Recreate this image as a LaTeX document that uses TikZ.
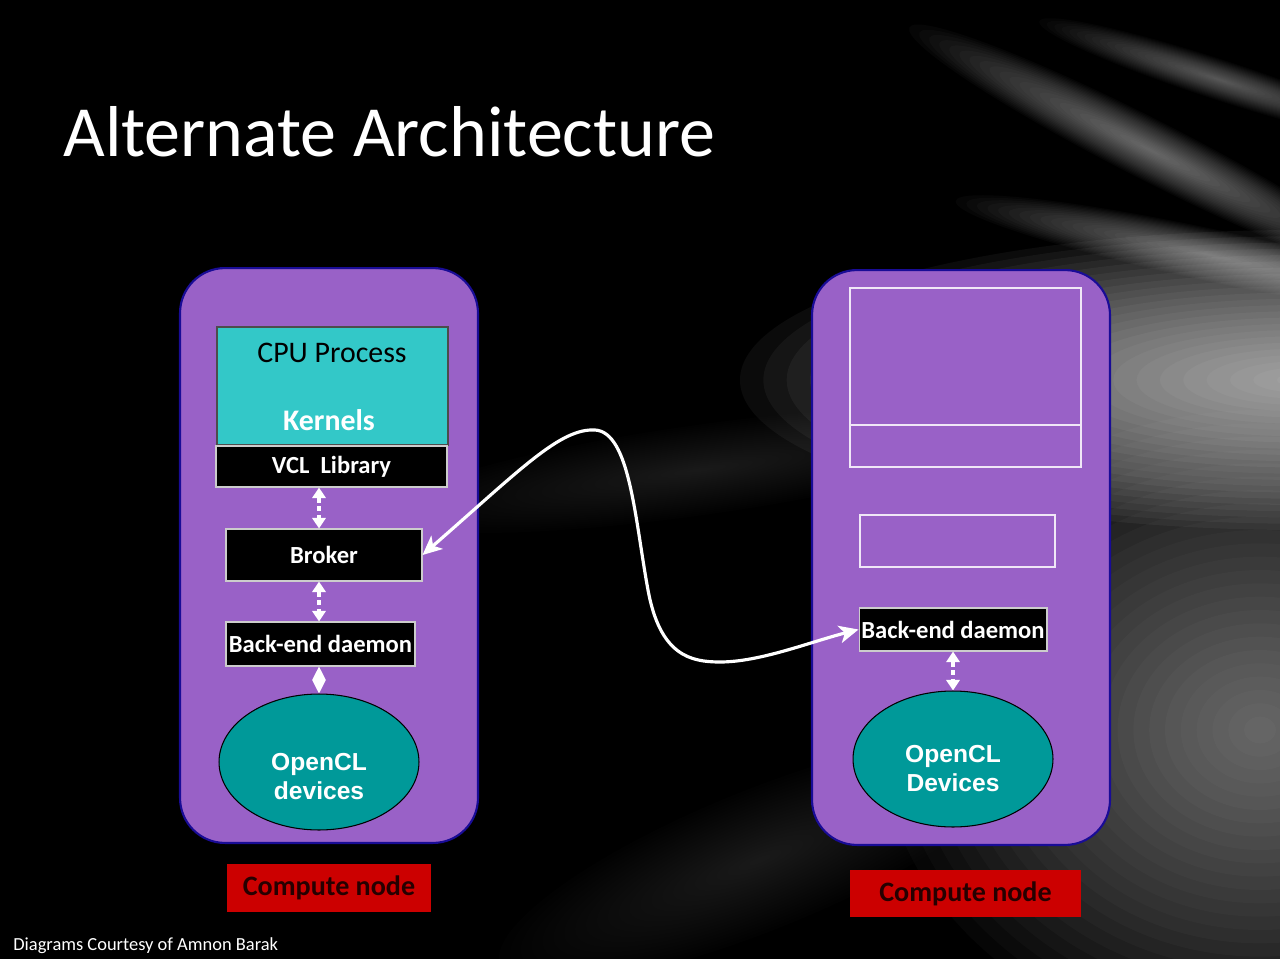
\documentclass[tikz,border=0pt]{standalone}
\usepackage{fontspec}
\setmainfont{Carlito}
\newfontfamily\arialfont{Liberation Sans}
\usetikzlibrary{arrows.meta,shapes.geometric,positioning}

\definecolor{hostpurple}{RGB}{153,97,199}
\definecolor{hostedge}{RGB}{25,12,150}
\definecolor{cputeal}{RGB}{51,200,200}
\definecolor{devteal}{RGB}{0,153,153}
\definecolor{labelred}{RGB}{204,0,0}

\tikzset{
  host/.style={draw=hostedge, line width=1.2pt, fill=hostpurple, rounded corners=0.9cm,
               minimum width=5.96cm, minimum height=11.5cm},
  blackbox/.style={draw=gray!40, line width=0.6pt, fill=black, text=white, inner sep=0pt,
                   font=\bfseries\fontsize{14}{16}\selectfont},
  emptybox/.style={draw=white!85!hostpurple, line width=0.8pt, inner sep=0pt},
  device/.style={ellipse, draw=black, line width=0.6pt, fill=devteal, inner sep=0pt,
                 minimum width=4cm, minimum height=2.72cm},
  devtext/.style={text=white, align=center, inner sep=0pt,
                  font=\arialfont\bfseries\fontsize{14}{16.5}\selectfont},
  nodelabel/.style={fill=labelred, text=black!85!red, inner sep=0pt,
                    font=\bfseries\fontsize{16}{18}\selectfont},
  dotlink/.style={white, line width=2.2pt, dash pattern=on 3pt off 2pt,
                  {Triangle[width=7.5pt,length=6pt]}-{Triangle[width=7.5pt,length=6pt]}},
  solidlink/.style={white, line width=0.8pt,
                  {Triangle[width=7.5pt,length=7.6pt]}-{Triangle[width=7.5pt,length=7.6pt]}},
  wire/.style={white, line width=1.8pt,
               {Stealth[length=11pt,width=10pt,inset=3pt]}-{Stealth[length=11pt,width=10pt,inset=3pt]}}
}

\begin{document}
\begin{tikzpicture}[x=0.02cm,y=-0.02cm]
  \fill[black] (0,0) rectangle (1280,959);
  \useasboundingbox (0,0) rectangle (1280,959);

  % background streaks: centre x, centre y, x radius, y radius, angle, opacity
  \foreach \cx/\cy/\rx/\ry/\ang/\op in {1300/380/560/150/0/0.045, 1260/730/380/320/0/0.024,
      1150/150/270/30/-27/0.025, 1220/80/190/20/-18/0.018, 1210/255/260/26/-12/0.023,
      700/470/320/45/8/0.007, 760/860/280/70/22/0.008}
    \foreach \k in {1,...,24}
      \fill[white, opacity=\op, rotate around={\ang:(\cx,\cy)}]
        (\cx,\cy) ellipse [x radius=\rx*\k/24, y radius=\ry*\k/24];

  \node[anchor=base west, inner sep=0pt, text=white, font=\fontsize{41}{48}\selectfont] (title) at (63,157) {Alternate Architecture};

  % left compute node
  \node[host] (host1) at (329,555.5) {};
  \node[draw=black!70, line width=0.6pt, fill=cputeal, minimum width=4.62cm, minimum height=2.36cm, inner sep=0pt]
       (cpu) at (332.5,386) {};
  \node[font=\fontsize{17}{20}\selectfont] (cputxt) at (332,353) {CPU Process};
  \node[text=white, font=\bfseries\fontsize{17}{20}\selectfont] (kern) at (329,420) {Kernels};
  \node[blackbox, minimum width=4.62cm, minimum height=0.82cm] (vcl) at (331.5,466.5) {VCL\ \ Library};
  \node[blackbox, minimum width=3.92cm, minimum height=1.04cm] (br1) at (324,555) {Broker};
  \node[blackbox, minimum width=3.78cm, minimum height=0.88cm] (bd1) at (320.5,644) {Back-end daemon};
  \node[device] (dev1) at (319,762) {};
  \node[devtext] (dev1txt) at (319,777) {OpenCL\\devices};
  \node[nodelabel, minimum width=4.08cm, minimum height=0.96cm] (lab1) at (329,888) {Compute node};

  % right compute node
  \node[host] (host2) at (961,557.5) {};
  \node[emptybox, minimum width=4.62cm, minimum height=2.74cm] (cpu2) at (965.5,356.5) {};
  \node[emptybox, minimum width=4.62cm, minimum height=0.84cm] (vcl2) at (965.5,446) {};
  \node[emptybox, minimum width=3.9cm, minimum height=1.04cm] (br2) at (957.5,541) {};
  \node[blackbox, minimum width=3.76cm, minimum height=0.86cm] (bd2) at (953,629.5) {Back-end daemon};
  \node[device] (dev2) at (953,759) {};
  \node[devtext] (dev2txt) at (953,769) {OpenCL\\Devices};
  \node[nodelabel, minimum width=4.62cm, minimum height=0.94cm] (lab2) at (965.5,893.5) {Compute node};

  \draw[dotlink] (vcl.south -| dev1.north) -- (br1.north -| dev1.north);
  \draw[dotlink] (br1.south -| dev1.north) -- (bd1.north -| dev1.north);
  \draw[solidlink] (bd1.south -| dev1.north) -- (dev1.north);
  \draw[dotlink] (bd2.south) -- (dev2.north);

  \draw[wire] (br1.east) .. controls (520,470) and (560,428) .. (595,430)
              .. controls (630,432) and (635,520) .. (648,590)
              .. controls (660,655) and (690,662) .. (720,662)
              .. controls (760,662) and (810,642) .. (bd2.west);

  \node[anchor=base west, inner sep=0pt, text=white, font=\fontsize{10.5}{12}\selectfont] (credit) at (13,950) {Diagrams Courtesy of Amnon Barak};
\end{tikzpicture}
\end{document}
